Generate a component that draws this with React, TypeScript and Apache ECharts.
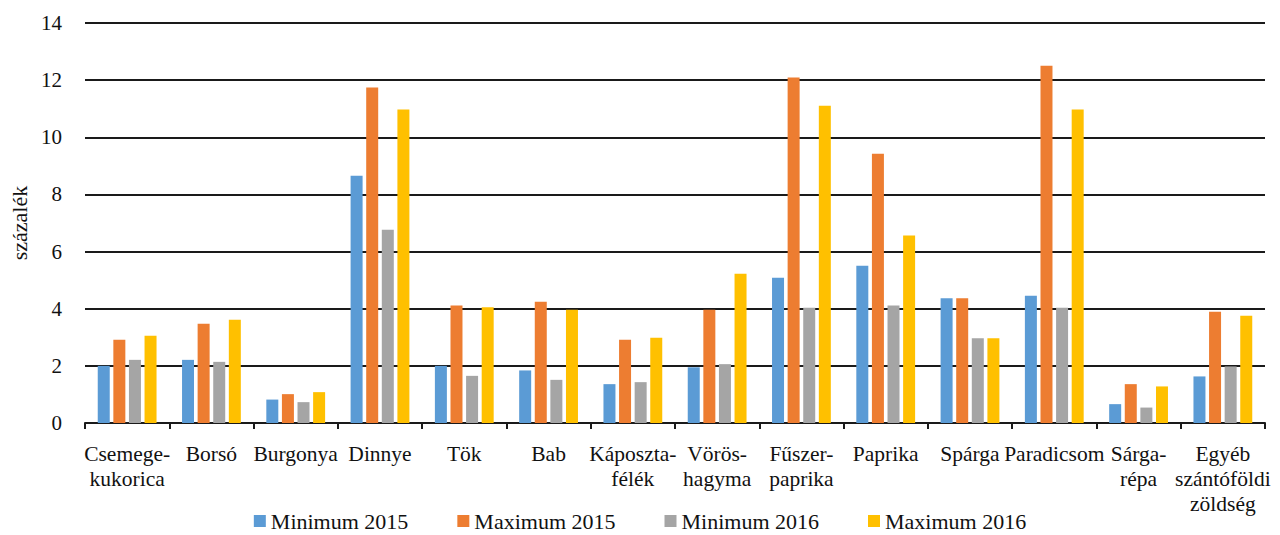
import React, { useEffect, useRef } from "react";
import * as echarts from "echarts";

const categories = [
  "Csemege-\nkukorica",
  "Borsó",
  "Burgonya",
  "Dinnye",
  "Tök",
  "Bab",
  "Káposzta-\nfélék",
  "Vörös-\nhagyma",
  "Fűszer-\npaprika",
  "Paprika",
  "Spárga",
  "Paradicsom",
  "Sárga-\nrépa",
  "Egyéb\nszántóföldi\nzöldség",
];

const min2015 = [2.0, 2.21, 0.82, 8.65, 2.0, 1.84, 1.36, 1.95, 5.08, 5.5, 4.37, 4.45, 0.66, 1.63];
const max2015 = [2.91, 3.47, 1.01, 11.74, 4.11, 4.24, 2.91, 3.96, 12.09, 9.42, 4.37, 12.5, 1.36, 3.89];
const min2016 = [2.21, 2.14, 0.73, 6.76, 1.65, 1.51, 1.43, 2.06, 4.03, 4.11, 2.97, 4.03, 0.54, 1.98];
const max2016 = [3.05, 3.61, 1.08, 10.97, 4.05, 3.96, 2.98, 5.22, 11.1, 6.56, 2.97, 10.97, 1.28, 3.75];

const seriesNames = ["Minimum 2015", "Maximum 2015", "Minimum 2016", "Maximum 2016"];
const colors = ["#5B9BD5", "#ED7D31", "#A5A5A5", "#FFC000"];

const FONT = "'Liberation Serif', 'Times New Roman', serif";

export default function App() {
  const ref = useRef<HTMLDivElement>(null);

  useEffect(() => {
    document.body.style.margin = "0";
    if (!ref.current) return;
    const chart = echarts.init(ref.current, undefined, { renderer: "svg" });
    const data = [min2015, max2015, min2016, max2016];
    chart.setOption({
      animation: false,
      backgroundColor: "#ffffff",
      textStyle: { fontFamily: FONT, color: "#111" },
      grid: { left: 85, right: 15, top: 23, bottom: 112, containLabel: false },
      legend: {
        top: 505,
        left: "center",
        itemWidth: 12,
        itemHeight: 12,
        itemGap: 49,
        icon: "rect",
        textStyle: { fontFamily: FONT, fontSize: 22, color: "#111" },
        data: seriesNames,
      },
      xAxis: {
        type: "category",
        data: categories,
        boundaryGap: true,
        axisLine: { show: true, lineStyle: { color: "#1a1a1a", width: 2 } },
        axisTick: { show: true, length: 6, lineStyle: { color: "#1a1a1a", width: 2 } },
        axisLabel: {
          interval: 0,
          fontFamily: FONT,
          fontSize: 21.5,
          color: "#111",
          lineHeight: 25,
          margin: 18,
        },
      },
      yAxis: {
        type: "value",
        min: 0,
        max: 14,
        interval: 2,
        name: "százalék",
        nameLocation: "middle",
        nameGap: 50,
        nameTextStyle: { fontFamily: FONT, fontSize: 22, color: "#111" },
        axisLine: { show: false },
        axisTick: { show: false },
        axisLabel: { fontFamily: FONT, fontSize: 21, color: "#111", margin: 23 },
        splitLine: { show: true, lineStyle: { color: "#1a1a1a", width: 2 } },
      },
      series: seriesNames.map((name, i) => ({
        name,
        type: "bar",
        data: data[i],
        barWidth: 12,
        barGap: "30%",
        itemStyle: { color: colors[i] },
      })),
    });
    return () => chart.dispose();
  }, []);

  return <div ref={ref} style={{ width: 1280, height: 535 }} />;
}
